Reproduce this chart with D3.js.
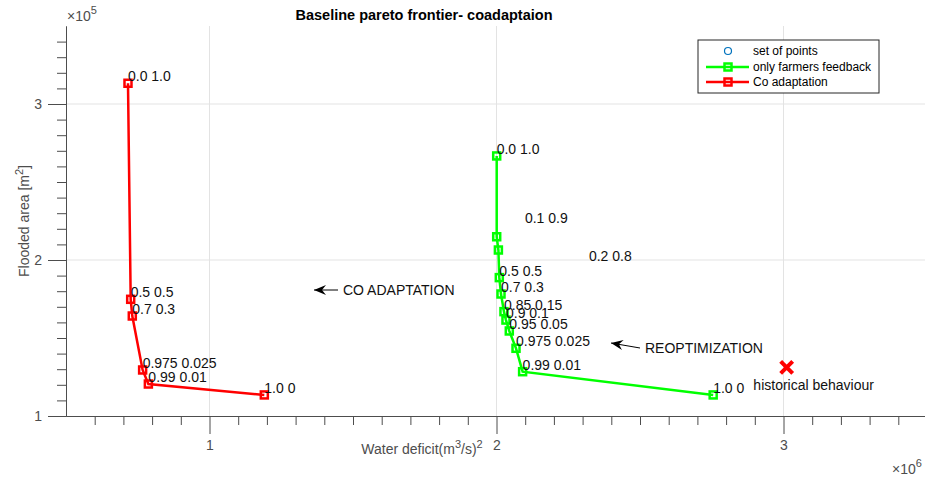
<!DOCTYPE html>
<html lang="en">
<head>
<meta charset="UTF-8">
<title>Baseline pareto frontier</title>
<script src="https://d3js.org/d3.v7.min.js"></script>
<style>
  body { margin: 0; background: #fff; }
  text { font-family: "Liberation Sans", Arial, sans-serif; }
</style>
</head>
<body>
<script>

var width = 925,
    height = 478;

// Co adaptation (red)
var coX = [0.716e6, 0.7254e6, 0.731e6, 0.767e6, 0.787e6, 1.191e6];
var coY = [3.133e5, 1.748e5, 1.641e5, 1.295e5, 1.205e5, 1.135e5];
var coLabels = ["0.0 1.0", "0.5 0.5", "0.7 0.3", "0.975 0.025", "0.99 0.01", "1.0 0"];

// only farmers feedback (green)
var ffX = [2.0007e6, 2.0007e6, 2.0066e6, 2.0098e6, 2.0157e6, 2.026e6, 2.033e6, 2.0446e6, 2.068e6, 2.091e6, 2.755e6];
var ffY = [2.667e5, 2.149e5, 2.064e5, 1.887e5, 1.782e5, 1.669e5, 1.615e5, 1.545e5, 1.434e5, 1.284e5, 1.135e5];
var ffLabels = ["0.0 1.0", "0.1 0.9", "0.2 0.8", "0.5 0.5", "0.7 0.3", "0.85 0.15", "0.9 0.1", "0.95 0.05", "0.975 0.025", "0.99 0.01", "1.0 0"];
// where the labels sit (two of them are placed away from their point)
var ffLabelX = [2.0007e6, 2.099e6, 2.322e6, 2.0098e6, 2.0157e6, 2.026e6, 2.033e6, 2.0446e6, 2.068e6, 2.091e6, 2.755e6];
var ffLabelY = [2.667e5, 2.224e5, 1.983e5, 1.887e5, 1.782e5, 1.669e5, 1.615e5, 1.545e5, 1.434e5, 1.284e5, 1.135e5];

// historical behaviour
var histX = [3.011e6];
var histY = [1.312e5];

var xMajor = [1e6, 2e6, 3e6];
var yMajor = [1e5, 2e5, 3e5];

var x = d3.scaleLinear().domain([0.5e6, 3.5e6]).range([66, 927]);
var y = d3.scaleLinear().domain([1e5, 3.5e5]).range([416, 26]);

var svg = d3.select("body").append("svg")
    .attr("width", width)
    .attr("height", height);

var axisColor = "#4d4d4d";
var labelSize = "14px";

// grid
svg.append("g").selectAll("line")
    .data(xMajor).enter().append("line")
    .attr("x1", d => x(d)).attr("x2", d => x(d))
    .attr("y1", y(3.5e5)).attr("y2", y(1e5))
    .style("stroke", "#e3e3e3");
svg.append("g").selectAll("line")
    .data(yMajor.slice(1)).enter().append("line")
    .attr("x1", x(0.5e6)).attr("x2", x(3.5e6))
    .attr("y1", d => y(d)).attr("y2", d => y(d))
    .style("stroke", "#e3e3e3");

// minor ticks
var xMinor = d3.range(6, 35).map(d => d * 1e5).filter(d => xMajor.indexOf(d) < 0);
var yMinor = d3.range(11, 35).map(d => d * 1e4).filter(d => yMajor.indexOf(d) < 0);

var gx = svg.append("g").attr("transform", "translate(0," + y(1e5) + ")");
gx.call(d3.axisBottom(x).tickValues(xMinor).tickSize(9).tickSizeOuter(0).tickFormat(""));
gx.append("g").call(d3.axisBottom(x).tickValues(xMajor).tickSize(18).tickSizeOuter(0).tickPadding(6)
    .tickFormat(d => d / 1e6));

var gy = svg.append("g").attr("transform", "translate(" + x(0.5e6) + ",0)");
gy.call(d3.axisLeft(y).tickValues(yMinor).tickSize(9).tickSizeOuter(0).tickFormat(""));
gy.append("g").call(d3.axisLeft(y).tickValues(yMajor).tickSize(18).tickSizeOuter(0).tickPadding(6)
    .tickFormat(d => d / 1e5));

svg.selectAll(".domain, .tick line").style("stroke", axisColor);
svg.selectAll(".tick text").style("fill", axisColor).style("font-size", "14px")
    .style("font-family", "Liberation Sans, Arial, sans-serif");

// exponent labels
var e5 = svg.append("text").attr("x", 67).attr("y", 21).style("fill", axisColor).style("font-size", "14px");
e5.append("tspan").text("\u00d710");
e5.append("tspan").attr("dy", -7).style("font-size", "11px").text("5");
var e6 = svg.append("text").attr("x", 892).attr("y", 474).style("fill", axisColor).style("font-size", "14px");
e6.append("tspan").text("\u00d710");
e6.append("tspan").attr("dy", -7).style("font-size", "11px").text("6");

// axis labels
var xl = svg.append("text").attr("x", 422).attr("y", 454).attr("text-anchor", "middle")
    .style("fill", axisColor).style("font-size", "14px");
xl.append("tspan").text("Water deficit(m");
xl.append("tspan").attr("dy", -6).style("font-size", "11px").text("3");
xl.append("tspan").attr("dy", 6).text("/s)");
xl.append("tspan").attr("dy", -6).style("font-size", "11px").text("2");

var yl = svg.append("text").attr("transform", "translate(29,221) rotate(-90)").attr("text-anchor", "middle")
    .style("fill", axisColor).style("font-size", "14px");
yl.append("tspan").text("Flooded area [m");
yl.append("tspan").attr("dy", -6).style("font-size", "11px").text("2");
yl.append("tspan").attr("dy", 6).text("]");

// title
svg.append("text").attr("x", 424).attr("y", 20).attr("text-anchor", "middle")
    .style("font-size", "14.5px").style("font-weight", "bold").style("fill", "#000")
    .text("Baseline pareto frontier- coadaptaion");

var line = d3.line().x(d => x(d[0])).y(d => y(d[1]));

function drawSeries(xs, ys, color) {
    var pts = xs.map((v, i) => [v, ys[i]]);
    svg.append("path").datum(pts)
        .attr("d", line)
        .style("fill", "none").style("stroke", color).style("stroke-width", 2.5);
    svg.append("g").selectAll("rect").data(pts).enter().append("rect")
        .attr("x", d => x(d[0]) - 3.5).attr("y", d => y(d[1]) - 3.5)
        .attr("width", 7).attr("height", 7)
        .style("fill", "none").style("stroke", color).style("stroke-width", 2.5);
}

function drawLabels(xs, ys, labels) {
    svg.append("g").selectAll("text").data(labels).enter().append("text")
        .attr("x", (d, i) => x(xs[i]))
        .attr("y", (d, i) => y(ys[i]) - 7)
        .attr("dy", "0.35em")
        .style("font-size", labelSize).style("fill", "#111")
        .text(d => d);
}

drawSeries(coX, coY, "#ff0000");
drawSeries(ffX, ffY, "#00ff00");
drawLabels(coX, coY, coLabels);
drawLabels(ffLabelX, ffLabelY, ffLabels);

// historical behaviour
histX.forEach(function(hx, i) {
    var cx = x(hx), cy = y(histY[i]);
    svg.append("path")
        .attr("d", "M" + (cx - 6) + "," + (cy - 6) + "L" + (cx + 6) + "," + (cy + 6) +
                   "M" + (cx - 6) + "," + (cy + 6) + "L" + (cx + 6) + "," + (cy - 6))
        .style("stroke", "#ff0000").style("stroke-width", 4);
    svg.append("text").attr("x", cx + 27).attr("y", cy + 18).attr("dy", "0.35em")
        .attr("text-anchor", "middle").style("font-size", labelSize).style("fill", "#111")
        .text("historical behaviour");
});

// arrows with text
function arrow(x1, y1, x2, y2, label) {
    var a = Math.atan2(y2 - y1, x2 - x1);
    svg.append("line").attr("x1", x1).attr("y1", y1).attr("x2", x2).attr("y2", y2)
        .style("stroke", "#000").style("stroke-width", 1);
    var L = 12, W = 5, N = 8;
    var p = [[x2, y2],
        [x2 - L * Math.cos(a) + W * Math.sin(a), y2 - L * Math.sin(a) - W * Math.cos(a)],
        [x2 - N * Math.cos(a), y2 - N * Math.sin(a)],
        [x2 - L * Math.cos(a) - W * Math.sin(a), y2 - L * Math.sin(a) + W * Math.cos(a)]];
    svg.append("path").attr("d", "M" + p.join("L") + "Z").style("fill", "#000");
    svg.append("text").attr("x", x1 + 5).attr("y", y1).attr("dy", "0.35em")
        .style("font-size", labelSize).style("fill", "#111").text(label);
}
arrow(338, 290, 314, 290, "CO ADAPTATION");
arrow(640, 348, 611, 343, "REOPTIMIZATION");

// legend
var lg = svg.append("g").attr("transform", "translate(698,40)");
lg.append("rect").attr("width", 181).attr("height", 53)
    .style("fill", "#fff").style("stroke", "#262626").style("stroke-width", 1);
lg.append("circle").attr("cx", 30).attr("cy", 11).attr("r", 3.5)
    .style("fill", "none").style("stroke", "#0072bd").style("stroke-width", 1.2);
[["#00ff00", 27], ["#ff0000", 42]].forEach(function(e) {
    lg.append("line").attr("x1", 8).attr("x2", 51).attr("y1", e[1]).attr("y2", e[1])
        .style("stroke", e[0]).style("stroke-width", 2.5);
    lg.append("rect").attr("x", 26.5).attr("y", e[1] - 3.5).attr("width", 7).attr("height", 7)
        .style("fill", "none").style("stroke", e[0]).style("stroke-width", 2.5);
});
lg.selectAll("text.lt").data(["set of points", "only farmers feedback", "Co adaptation"])
    .enter().append("text")
    .attr("x", 55).attr("y", (d, i) => 11 + i * 15.5).attr("dy", "0.35em")
    .style("font-size", "12px").style("fill", "#000")
    .text(d => d);

</script>
</body>
</html>
